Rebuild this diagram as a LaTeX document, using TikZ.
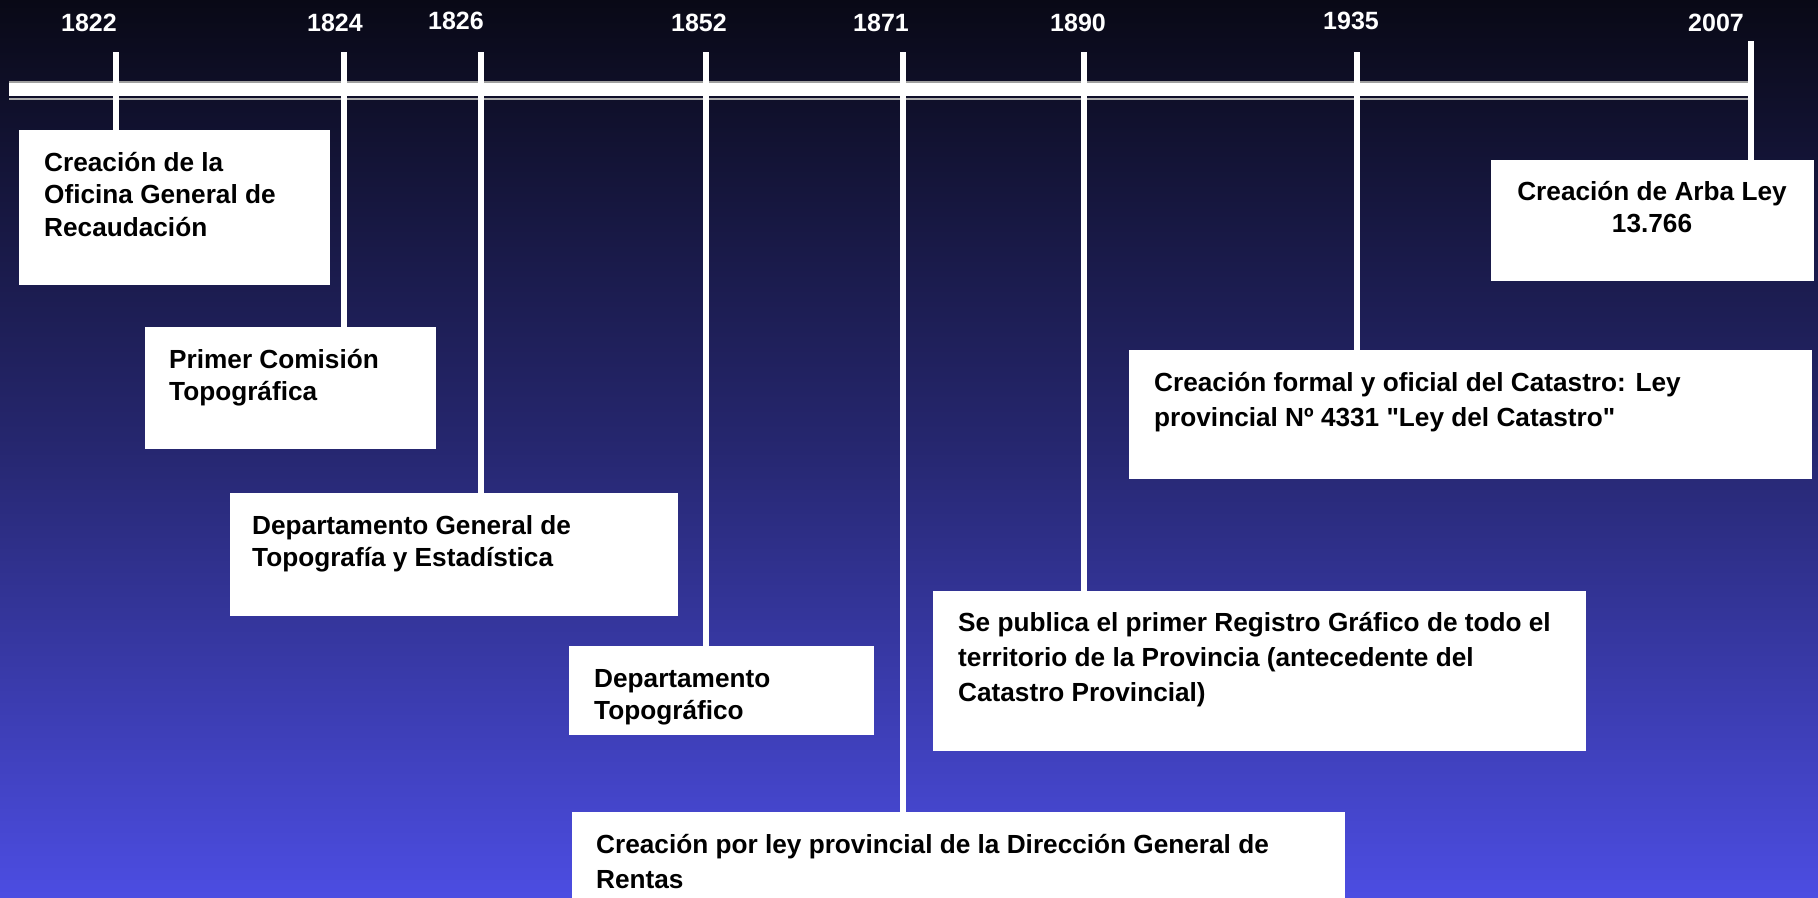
\documentclass[tikz,border=0pt]{standalone}
\usepackage{fontspec}
\setmainfont{Liberation Sans}[Ligatures=TeXOff]
\definecolor{bgtop}{RGB}{9,9,22}
\definecolor{bgmid}{RGB}{38,39,112}
\definecolor{bgbot}{RGB}{76,77,226}
\begin{document}
\begin{tikzpicture}[x=1pt,y=-1pt,
  evbox/.style={fill=white, draw=none, anchor=north west, inner sep=0pt},
  evtext/.style={anchor=north west, inner sep=0pt, align=left, text=black, font=\bfseries\fontsize{26.2}{32.5}\selectfont},
  evtextb/.style={evtext, font=\bfseries\fontsize{26.2}{35}\selectfont},
  yr/.style={font=\bfseries\fontsize{25}{30}\selectfont, text=white, inner sep=0pt},
  ticko/.style={draw=white, line width=6pt}]
\useasboundingbox (0,0) rectangle (1818,897);
\shade[top color=bgtop, bottom color=bgbot, middle color=bgmid] (0,0) rectangle (1818,897);
% timeline bar
\node[fill=white, draw=none, anchor=north west, inner sep=0pt, minimum width=1742pt, minimum height=14pt] (bar) at (9,82) {};
\draw[gray!75, line width=1.2pt] (bar.north west) -- (bar.north east);
\draw[gray!65, line width=2pt] ([yshift=-2.5pt]bar.south west) -- ([yshift=-2.5pt]bar.south east);
% boxes
\node[evbox, minimum width=311pt, minimum height=155pt] (b1) at (19,130) {};
\node[evbox, minimum width=291pt, minimum height=122pt] (b2) at (145,327) {};
\node[evbox, minimum width=448pt, minimum height=123pt] (b3) at (230,493) {};
\node[evbox, minimum width=305pt, minimum height=89pt] (b4) at (569,646) {};
\node[evbox, minimum width=773pt, minimum height=90pt] (b5) at (572,812) {};
\node[evbox, minimum width=653pt, minimum height=160pt] (b6) at (933,591) {};
\node[evbox, minimum width=683pt, minimum height=129pt] (b7) at (1129,350) {};
\node[evbox, minimum width=323pt, minimum height=121pt] (b8) at (1491,160) {};
% texts
\node[evtext] (t1) at (44,152) {Creación de la\\Oficina General de\\Recaudación};
\node[evtext] (t2) at (169,349) {Primer Comisión\\Topográfica};
\node[evtext] (t3) at (252,515) {Departamento General de\\Topografía y Estadística};
\node[evtext] (t4) at (594,669) {Departamento\\Topográfico};
\node[evtextb] (t5) at (596,834) {Creación por ley provincial de la Dirección General de\\Rentas};
\node[evtextb] (t6) at (958,612) {Se publica el primer Registro Gráfico de todo el\\territorio de la Provincia (antecedente del\\Catastro Provincial)};
\node[evtextb] (t7) at (1154,372) {Creación formal y oficial del Catastro: Ley\\provincial Nº 4331 "Ley del Catastro"};
\node[evtext, anchor=north, align=center] (t8) at (1652,181) {Creación de Arba Ley\\13.766};
% tick tops
\coordinate (k1) at (116,52);
\coordinate (k2) at (344,52);
\coordinate (k3) at (481,52);
\coordinate (k4) at (706,52);
\coordinate (k5) at (903,52);
\coordinate (k6) at (1084,52);
\coordinate (k7) at (1357,52);
\coordinate (k8) at (1751,41);
\draw[ticko] (k1) -- (k1 |- b1.north);
\draw[ticko] (k2) -- (k2 |- b2.north);
\draw[ticko] (k3) -- (k3 |- b3.north);
\draw[ticko] (k4) -- (k4 |- b4.north);
\draw[ticko] (k5) -- (k5 |- b5.north);
\draw[ticko] (k6) -- (k6 |- b6.north);
\draw[ticko] (k7) -- (k7 |- b7.north);
\draw[ticko] (k8) -- (k8 |- b8.north);
% years
\node[yr] (y1) at (89,23) {1822};
\node[yr] (y2) at (335,23) {1824};
\node[yr] (y3) at (456,21) {1826};
\node[yr] (y4) at (699,23) {1852};
\node[yr] (y5) at (881,23) {1871};
\node[yr] (y6) at (1078,23) {1890};
\node[yr] (y7) at (1351,21) {1935};
\node[yr] (y8) at (1716,23) {2007};
\end{tikzpicture}
\end{document}
